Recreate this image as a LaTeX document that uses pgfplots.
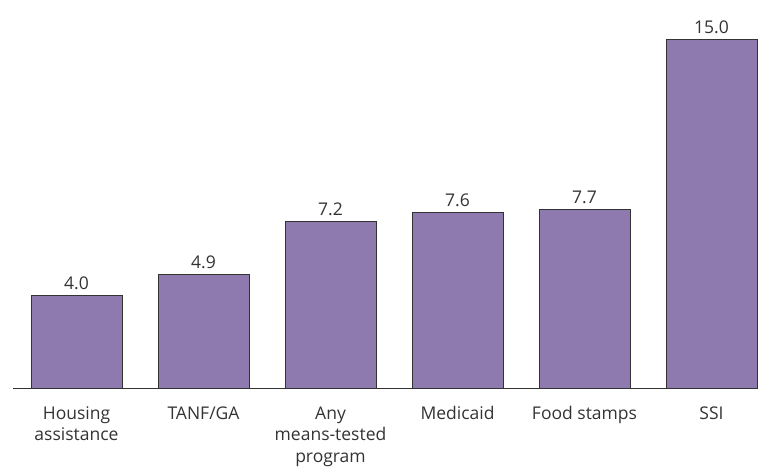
\documentclass[border=0pt]{standalone}
\usepackage{fontspec}
\setmainfont{Open Sans}
\usepackage{pgfplots}
\pgfplotsset{compat=1.18}
\definecolor{barfill}{HTML}{8E7AAE}
\definecolor{baredge}{HTML}{333333}
\begin{document}
\begin{tikzpicture}[x=1pt,y=1pt]
\begin{axis}[name=ax,
    anchor=south west, at={(0,0)},
    x=127pt, y=23.27pt,
    xmin=-0.5, xmax=5.366,
    ymin=0, ymax=15.5,
    axis x line=bottom,
    axis y line=none,
    axis line style={baredge, line width=1pt, -},
    scale only axis,
    clip=false,
    xtick={0,1,2,3,4,5},
    xticklabels={{Housing\\assistance}, {TANF/GA}, {Any\\means-tested\\program}, {Medicaid}, {Food stamps}, {SSI}},
    major tick length=0pt,
    xticklabel style={align=center, font=\fontsize{17.5}{21.5}\selectfont, text=baredge, yshift=-14pt},
    ybar, bar width=91pt,
    nodes near coords,
    nodes near coords style={font=\fontsize{17.5}{20}\selectfont, text=baredge, yshift=2pt,
        /pgf/number format/.cd, fixed, fixed zerofill, precision=1, assume math mode=true},
]
\addplot[fill=barfill, draw=baredge, line width=1pt] coordinates {
    (0,4.0) (1,4.9) (2,7.2) (3,7.6) (4,7.7) (5,15.0)
};
\end{axis}
\pgfresetboundingbox
\path (-13,-84) rectangle (745,389);
\end{tikzpicture}
\end{document}
